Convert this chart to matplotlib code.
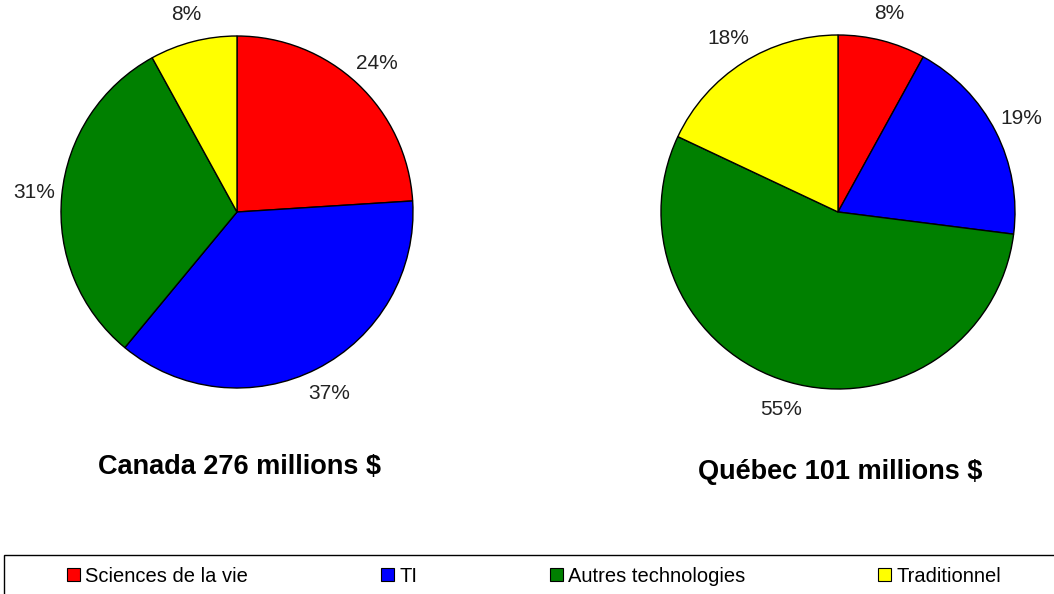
import matplotlib
import matplotlib.pyplot as plt
from matplotlib.patches import Rectangle, Patch

matplotlib.use('Agg')

categories = ['Sciences de la vie', 'TI', 'Autres technologies', 'Traditionnel']
colors = ['#ff0000', '#0000ff', '#008000', '#ffff00']
canada_values = [24, 37, 31, 8]
quebec_values = [8, 19, 55, 18]
titles = ['Canada 276 millions $', 'Québec 101 millions $']

plt.rcParams['font.family'] = ['Liberation Sans', 'DejaVu Sans']

W, H = 1054, 594


def main() -> None:
    fig = plt.figure(figsize=(W / 100, H / 100), dpi=100)

    pies = [(canada_values, 237, 212, 176, titles[0], 239, 467),
            (quebec_values, 838, 212, 177, titles[1], 840, 472)]
    for values, cx, cy, r, title, tx, ty in pies:
        ax = fig.add_axes([(cx - r) / W, (H - cy - r) / H, 2 * r / W, 2 * r / H])
        _, texts = ax.pie(values, colors=colors, startangle=90, counterclock=False,
                          labels=[f'{v}%' for v in values], labeldistance=1.16,
                          wedgeprops={'edgecolor': 'black', 'linewidth': 1},
                          textprops={'fontsize': 15, 'color': '#222222'})
        for t in texts:
            t.set_ha('center')
            t.set_va('center')
        ax.set_xlim(-1, 1)
        ax.set_ylim(-1, 1)
        ax.set_aspect('equal')
        fig.text(tx / W, 1 - ty / H, title, ha='center', va='center',
                 fontsize=19.5, fontweight='bold')

    # legend frame (runs off the right and bottom edges)
    fig.patches.append(Rectangle((4 / W, -0.05), 1.1, (H - 555) / H + 0.05,
                                 transform=fig.transFigure, fill=False,
                                 edgecolor='black', linewidth=1))
    handles = [Patch(facecolor=c, edgecolor='black', linewidth=0.8) for c in colors]
    fig.legend(handles, categories, loc='center left', ncol=4, frameon=False,
               bbox_to_anchor=(67 / W, 1 - 576 / H), fontsize=14.5,
               handlelength=0.65, handleheight=0.65, handletextpad=0.25,
               columnspacing=6.6, borderaxespad=0, borderpad=0)

    fig.savefig('out.png', dpi=100)


if __name__ == '__main__':
    main()
